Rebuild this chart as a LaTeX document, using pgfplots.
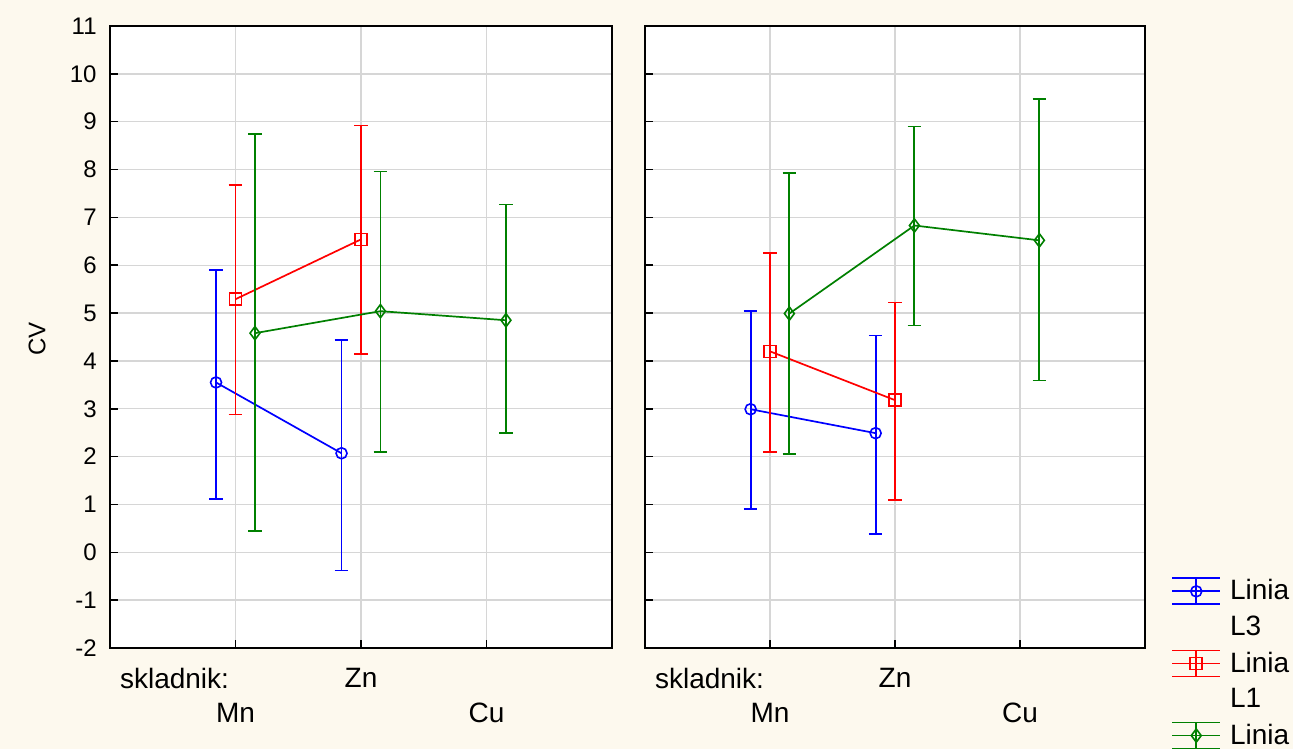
\documentclass[border=0pt]{standalone}
\usepackage{fontspec}
\setmainfont{Liberation Sans}
\usepackage{pgfplots}
\usepackage{pgfplotstable}
\pgfplotsset{compat=1.18}
\definecolor{bgc}{HTML}{FDF9EE}
\definecolor{gridc}{HTML}{D6D6D6}
\definecolor{cblue}{HTML}{0000FF}
\definecolor{cred}{HTML}{FF0000}
\definecolor{cgreen}{HTML}{008000}

% left panel
\pgfplotstableread{
x y ep em
0.845 3.55 2.35 2.44
1.845 2.07 2.36 2.45
}\LBlue
\pgfplotstableread{
x y ep em
1.0 5.29 2.38 2.41
2.0 6.54 2.38 2.40
}\LRed
\pgfplotstableread{
x y ep em
1.155 4.58 4.16 4.14
2.155 5.04 2.92 2.95
3.155 4.85 2.42 2.36
}\LGreen
% right panel
\pgfplotstableread{
x y ep em
0.845 2.99 2.05 2.09
1.845 2.49 2.04 2.11
}\RBlue
\pgfplotstableread{
x y ep em
1.0 4.20 2.05 2.11
2.0 3.18 2.04 2.09
}\RRed
\pgfplotstableread{
x y ep em
1.155 4.99 2.93 2.94
2.155 6.83 2.07 2.09
3.155 6.52 2.95 2.93
}\RGreen

\pgfplotsset{
 panel/.style={
  scale only axis, width=251pt, height=311pt,
  xmin=0,xmax=4,ymin=-2,ymax=11,
  ytick={-2,...,11}, xtick={1,2,3}, xticklabels={},
  ymajorgrids, xmajorgrids,
  grid style={gridc, line width=0.7pt},
  axis line style={line width=0.9pt},
  axis background/.style={fill=white},
  tick align=inside, ytick pos=left, xtick pos=bottom,
  major tick length=4pt,
  tick style={black, line width=0.8pt},
  /pgf/number format/assume math mode=true,
  yticklabel style={font=\fontsize{12}{14}\selectfont, inner sep=0pt, xshift=-6.5pt},
  clip=false,
 },
 ser/.style={#1, line width=0.85pt, mark options={solid, line width=0.8pt},
  error bars/y dir=both, error bars/y explicit,
  error bars/draw error bar/.code 2 args={\draw[#1, solid, line width=0.9pt] ##1 -- ##2 ##2 ++(-3.4pt,0pt) -- ++(6.8pt,0pt);}},
 leg/.style={legend image code/.code={
   \draw[##1, mark=none] (0pt,6.5pt)--(24pt,6.5pt) (0pt,0pt)--(24pt,0pt) (0pt,-6.5pt)--(24pt,-6.5pt) (12pt,-6.5pt)--(12pt,6.5pt);
   \draw[##1, only marks] plot coordinates {(12pt,0pt)};
 }},
}
\newcommand{\xlabs}{%
  \node[anchor=west, font=\fontsize{14}{16}\selectfont] at ([xshift=1.5pt,yshift=-15pt]rel axis cs:0,0) {skladnik:};
  \node[font=\fontsize{14}{16}\selectfont] at ([yshift=-15pt]axis cs:2,-2) {Zn};
  \node[font=\fontsize{14}{16}\selectfont] at ([yshift=-32.5pt]axis cs:1,-2) {Mn};
  \node[font=\fontsize{14}{16}\selectfont] at ([yshift=-32.5pt]axis cs:3,-2) {Cu};
}

\begin{document}
\begin{tikzpicture}
\useasboundingbox (0,0) rectangle (646.5pt,374.5pt);
\fill[bgc] (0,0) rectangle (646.5pt,374.5pt);
\clip (0,0) rectangle (646.5pt,374.5pt);
\node[rotate=90, font=\fontsize{12}{14}\selectfont] at (18.5pt,205pt) {CV};

\begin{axis}[panel, at={(55pt,50.5pt)}, anchor=south west]
\addplot[ser=cblue, mark=o, mark size=2.75pt] table[x=x,y=y,y error plus=ep,y error minus=em] {\LBlue};
\addplot[ser=cred, mark=square, mark size=3pt] table[x=x,y=y,y error plus=ep,y error minus=em] {\LRed};
\addplot[ser=cgreen, mark=diamond, mark size=3.3pt] table[x=x,y=y,y error plus=ep,y error minus=em] {\LGreen};
\xlabs
\end{axis}

\begin{axis}[panel, at={(322.5pt,50.5pt)}, anchor=south west, width=250pt, yticklabels={},
  legend style={at={(1.052,0.114)}, anchor=north west, draw=none, fill=none,
    font=\fontsize{14}{16}\selectfont, row sep=5.5pt, column sep=4.5pt, inner sep=0pt,
    nodes={inner sep=0pt}},
  legend cell align=left]
\addplot[ser=cblue, leg, mark=o, mark size=2.75pt] table[x=x,y=y,y error plus=ep,y error minus=em] {\RBlue};
\addlegendentry{Linia}
\addlegendimage{empty legend}
\addlegendentry{L3}
\addplot[ser=cred, leg, mark=square, mark size=3pt] table[x=x,y=y,y error plus=ep,y error minus=em] {\RRed};
\addlegendentry{Linia}
\addlegendimage{empty legend}
\addlegendentry{L1}
\addplot[ser=cgreen, leg, mark=diamond, mark size=3.3pt] table[x=x,y=y,y error plus=ep,y error minus=em] {\RGreen};
\addlegendentry{Linia}
\addlegendimage{empty legend}
\addlegendentry{L2}
\xlabs
\end{axis}
\end{tikzpicture}
\end{document}
